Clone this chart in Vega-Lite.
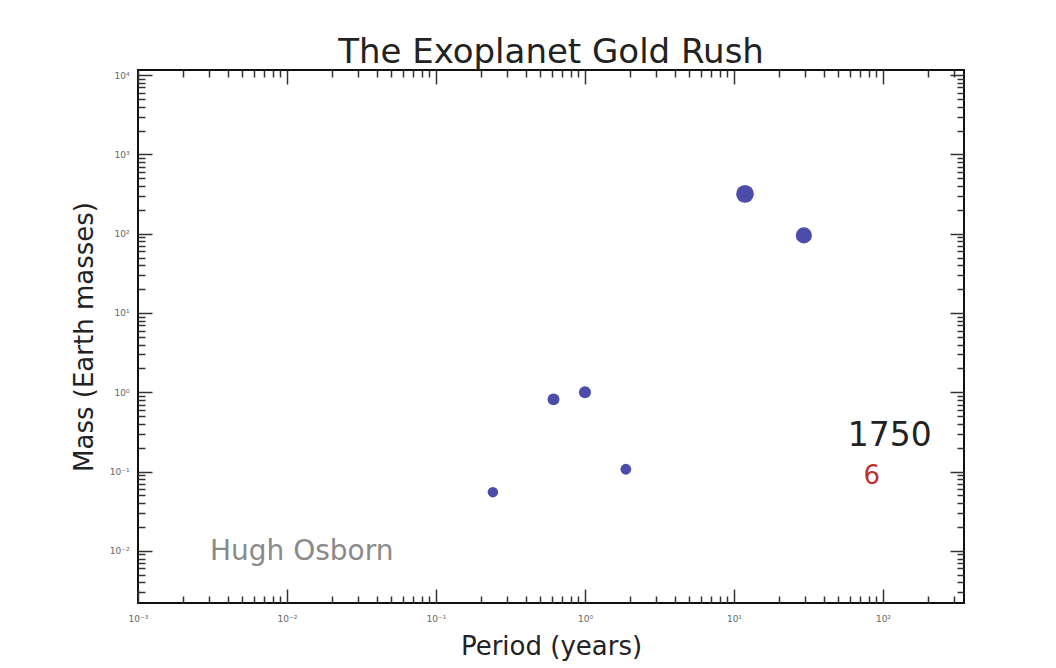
{
  "$schema": "https://vega.github.io/schema/vega-lite/v6.json",
  "width": 826,
  "height": 533,
  "autosize": {"type": "none"},
  "padding": {"left": 138, "top": 70, "right": 92, "bottom": 65},
  "background": "white",
  "title": {"text": "The Exoplanet Gold Rush", "font": "DejaVu Sans", "fontSize": 34, "fontWeight": "normal", "color": "#222222", "baseline": "alphabetic", "offset": 6, "dy": 34, "anchor": "middle"},
  "config": {
    "view": {"stroke": "#111111", "strokeWidth": 2},
    "axis": {"domain": false, "grid": false, "labelFont": "DejaVu Sans", "titleFont": "DejaVu Sans", "tickColor": "#333333", "tickWidth": 1.5, "labelFlush": false, "labelOverlap": false, "labelColor": "#666666", "labelFontSize": 9, "titleFontWeight": "normal", "titleColor": "#222222", "titleFontSize": 26}
  },
  "datasets": {
    "planets": [
      {"name": "Mercury", "period": 0.241, "mass": 0.055},
      {"name": "Venus", "period": 0.615, "mass": 0.815},
      {"name": "Earth", "period": 1.0, "mass": 1.0},
      {"name": "Mars", "period": 1.881, "mass": 0.107},
      {"name": "Jupiter", "period": 11.86, "mass": 317.8},
      {"name": "Saturn", "period": 29.46, "mass": 95.2}
    ]
  },
  "resolve": {"axis": {"x": "independent", "y": "independent"}},
  "layer": [
    {
      "data": {"name": "planets"},
      "mark": {"type": "point", "opacity": 0},
      "encoding": {
        "x": {"field": "period", "type": "quantitative", "scale": {"type": "log", "domain": [0.001, 350], "nice": false}, "axis": {"orient": "bottom", "values": [0.002,0.003,0.004,0.005,0.006,0.007,0.008,0.009,0.02,0.03,0.04,0.05,0.06,0.07,0.08,0.09,0.2,0.3,0.4,0.5,0.6,0.7,0.8,0.9,2,3,4,5,6,7,8,9,20,30,40,50,60,70,80,90,200,300], "labels": false, "tickSize": -7, "title": null}},
        "y": {"field": "mass", "type": "quantitative", "scale": {"type": "log", "domain": [0.0022, 11600], "nice": false}, "axis": {"orient": "left", "values": [0.003,0.004,0.005,0.006,0.007,0.008,0.009,0.02,0.03,0.04,0.05,0.06,0.07,0.08,0.09,0.2,0.3,0.4,0.5,0.6,0.7,0.8,0.9,2,3,4,5,6,7,8,9,20,30,40,50,60,70,80,90,200,300,400,500,600,700,800,900,2000,3000,4000,5000,6000,7000,8000,9000], "labels": false, "tickSize": -7, "title": null}}
      }
    },
    {
      "data": {"name": "planets"},
      "mark": {"type": "point", "opacity": 0},
      "encoding": {
        "x": {"field": "period", "type": "quantitative", "scale": {"type": "log", "domain": [0.001, 350], "nice": false}, "axis": {"orient": "top", "values": [0.002,0.003,0.004,0.005,0.006,0.007,0.008,0.009,0.02,0.03,0.04,0.05,0.06,0.07,0.08,0.09,0.2,0.3,0.4,0.5,0.6,0.7,0.8,0.9,2,3,4,5,6,7,8,9,20,30,40,50,60,70,80,90,200,300], "labels": false, "tickSize": -7, "title": null}},
        "y": {"field": "mass", "type": "quantitative", "scale": {"type": "log", "domain": [0.0022, 11600], "nice": false}, "axis": {"orient": "right", "values": [0.003,0.004,0.005,0.006,0.007,0.008,0.009,0.02,0.03,0.04,0.05,0.06,0.07,0.08,0.09,0.2,0.3,0.4,0.5,0.6,0.7,0.8,0.9,2,3,4,5,6,7,8,9,20,30,40,50,60,70,80,90,200,300,400,500,600,700,800,900,2000,3000,4000,5000,6000,7000,8000,9000], "labels": false, "tickSize": -7, "title": null}}
      }
    },
    {
      "data": {"name": "planets"},
      "mark": {"type": "point", "opacity": 0},
      "encoding": {
        "x": {"field": "period", "type": "quantitative", "scale": {"type": "log", "domain": [0.001, 350], "nice": false}, "axis": {"orient": "top", "values": [0.001, 0.01, 0.1, 1, 10, 100], "labels": false, "tickSize": -14, "title": null}},
        "y": {"field": "mass", "type": "quantitative", "scale": {"type": "log", "domain": [0.0022, 11600], "nice": false}, "axis": {"orient": "right", "values": [0.01, 0.1, 1, 10, 100, 1000, 10000], "labels": false, "tickSize": -14, "title": null}}
      }
    },
    {
      "data": {"name": "planets"},
      "mark": {"type": "circle", "color": "#4c4cab", "opacity": 1},
      "encoding": {
        "x": {"field": "period", "type": "quantitative", "scale": {"type": "log", "domain": [0.001, 350], "nice": false}, "axis": {"orient": "bottom", "values": [0.001, 0.01, 0.1, 1, 10, 100], "labelExpr": "['10⁻³','10⁻²','10⁻¹','10⁰','10¹','10²','10³','10⁴'][round(log(datum.value)/LN10)+3]", "tickSize": -14, "labelPadding": 25, "title": "Period (years)", "titlePadding": 10}},
        "y": {"field": "mass", "type": "quantitative", "scale": {"type": "log", "domain": [0.0022, 11600], "nice": false}, "axis": {"orient": "left", "values": [0.01, 0.1, 1, 10, 100, 1000, 10000], "labelExpr": "['10⁻³','10⁻²','10⁻¹','10⁰','10¹','10²','10³','10⁴'][round(log(datum.value)/LN10)+3]", "tickSize": -14, "labelPadding": 23, "title": "Mass (Earth masses)", "titlePadding": 12}},
        "size": {"field": "mass", "type": "quantitative", "scale": {"type": "pow", "exponent": 0.2, "domain": [0.055, 318], "range": [110, 314]}, "legend": null}
      }
    },
    {
      "data": {"values": [{"period": 111, "mass": 0.28, "label": "1750"}]},
      "mark": {"type": "text", "font": "DejaVu Sans", "fontSize": 33, "color": "#222222", "align": "center", "baseline": "middle"},
      "encoding": {
        "x": {"field": "period", "type": "quantitative", "scale": {"type": "log", "domain": [0.001, 350], "nice": false}, "axis": null},
        "y": {"field": "mass", "type": "quantitative", "scale": {"type": "log", "domain": [0.0022, 11600], "nice": false}, "axis": null},
        "text": {"field": "label"}
      }
    },
    {
      "data": {"values": [{"period": 84, "mass": 0.087, "label": "6"}]},
      "mark": {"type": "text", "font": "DejaVu Sans", "fontSize": 26, "color": "#c0302e", "align": "center", "baseline": "middle"},
      "encoding": {
        "x": {"field": "period", "type": "quantitative", "scale": {"type": "log", "domain": [0.001, 350], "nice": false}, "axis": null},
        "y": {"field": "mass", "type": "quantitative", "scale": {"type": "log", "domain": [0.0022, 11600], "nice": false}, "axis": null},
        "text": {"field": "label"}
      }
    },
    {
      "data": {"values": [{"period": 0.00304, "mass": 0.0098, "label": "Hugh Osborn"}]},
      "mark": {"type": "text", "font": "DejaVu Sans", "fontSize": 28, "color": "#8a8a8a", "align": "left", "baseline": "middle"},
      "encoding": {
        "x": {"field": "period", "type": "quantitative", "scale": {"type": "log", "domain": [0.001, 350], "nice": false}, "axis": null},
        "y": {"field": "mass", "type": "quantitative", "scale": {"type": "log", "domain": [0.0022, 11600], "nice": false}, "axis": null},
        "text": {"field": "label"}
      }
    }
  ]
}
